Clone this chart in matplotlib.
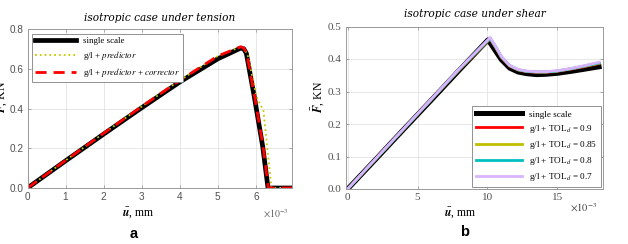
import matplotlib
matplotlib.use("Agg")
import matplotlib.pyplot as plt
from matplotlib.ticker import FuncFormatter
import numpy as np

plt.rcParams['mathtext.fontset'] = 'stix'

# ---- panel a: isotropic case under tension (u in mm, F in KN)
u_single_a = np.array([0, 1, 2, 3, 4, 5, 5.6, 5.68, 5.75, 5.96, 6.18, 6.32, 6.5, 6.95]) * 1e-3
F_single_a = [0, 0.137, 0.272, 0.405, 0.535, 0.652, 0.706, 0.703, 0.68, 0.46, 0.21, 0, 0, 0]

u_pred_a = np.array([0, 1, 2, 3, 4, 5, 5.6, 5.68, 5.78, 6.02, 6.2, 6.41, 6.6, 6.95]) * 1e-3
F_pred_a = [0, 0.139, 0.276, 0.411, 0.543, 0.666, 0.713, 0.707, 0.675, 0.46, 0.39, 0, 0, 0]

u_corr_a = np.array([0, 1, 2, 3, 4, 5, 5.6, 5.68, 5.76, 5.97, 6.19, 6.33, 6.5, 6.95]) * 1e-3
F_corr_a = [0, 0.139, 0.276, 0.411, 0.543, 0.666, 0.713, 0.707, 0.678, 0.46, 0.21, 0, 0, 0]

# ---- panel b: isotropic case under shear
u_b = np.array([0, 2, 4, 6, 8, 10.05, 10.5, 11, 11.6, 12.2, 12.8, 13.5, 14.2, 15, 16, 17, 18]) * 1e-3
F_single_b = [0, 0.091, 0.183, 0.274, 0.366, 0.459, 0.43, 0.398, 0.372, 0.36, 0.355, 0.352, 0.353, 0.356, 0.362, 0.369, 0.376]

u_tol = np.array([0, 2, 4, 6, 8, 10.2, 10.6, 11, 11.6, 12.2, 12.8, 13.5, 14.2, 15, 16, 17, 18]) * 1e-3
F_tol_09 = [0, 0.092, 0.184, 0.276, 0.368, 0.462, 0.435, 0.405, 0.378, 0.366, 0.361, 0.359, 0.359, 0.362, 0.369, 0.377, 0.386]
F_tol_085 = [0, 0.092, 0.184, 0.276, 0.368, 0.463, 0.436, 0.406, 0.379, 0.367, 0.362, 0.36, 0.36, 0.363, 0.37, 0.378, 0.387]
F_tol_08 = [0, 0.092, 0.184, 0.276, 0.369, 0.464, 0.437, 0.407, 0.38, 0.367, 0.362, 0.36, 0.36, 0.363, 0.37, 0.379, 0.388]
F_tol_07 = [0, 0.093, 0.185, 0.277, 0.37, 0.466, 0.438, 0.408, 0.38, 0.368, 0.363, 0.361, 0.361, 0.364, 0.371, 0.38, 0.39]

tol_series = [(F_tol_09, 'red', r'g/l + TOL$_d$ = 0.9'),
              (F_tol_085, '#bfbf00', r'g/l + TOL$_d$ = 0.85'),
              (F_tol_08, '#00bfbf', r'g/l + TOL$_d$ = 0.8'),
              (F_tol_07, '#d9b3ff', r'g/l + TOL$_d$ = 0.7')]

W, H = 628, 244
fig = plt.figure(figsize=(W / 100, H / 100), dpi=100)

def px_axes(l, t, r, b):
    return fig.add_axes([l / W, 1 - b / H, (r - l) / W, (b - t) / H])

milli = FuncFormatter(lambda v, p: f"{v * 1e3:g}")
serif = 'Liberation Serif'

def style(ax, tickfont):
    ax.grid(True, color='#e3e3e3', lw=0.6)
    ax.set_axisbelow(True)
    for s in ax.spines.values():
        s.set_color('#9a9a9a')
        s.set_linewidth(0.7)
    ax.tick_params(direction='in', length=2.5, width=0.6, color='#9a9a9a',
                   top=True, right=True, labelcolor='#505050', pad=3)
    for lab in ax.get_xticklabels() + ax.get_yticklabels():
        lab.set_fontfamily(tickfont[0])
        lab.set_fontsize(tickfont[1])
    ax.xaxis.set_major_formatter(milli)

# ---- panel a
ax1 = px_axes(27.5, 29.5, 292, 188)
ax1.plot(u_single_a, F_single_a, color='black', lw=3.4, label='single scale', solid_joinstyle='round')
ax1.plot(u_pred_a, F_pred_a, color='#c8c800', lw=1.3, ls=':', label=r'g/l + $\it{predictor}$')
ax1.plot(u_corr_a, F_corr_a, color='red', lw=2.0, ls=(0, (4, 2.5)),
         label=r'g/l + $\it{predictor}$ + $\it{corrector}$')
ax1.set_xlim(0, 6.95e-3)
ax1.set_ylim(0, 0.8)
ax1.set_xticks(np.arange(0, 7) * 1e-3)
ax1.set_yticks([0, 0.2, 0.4, 0.6, 0.8])
style(ax1, ('Liberation Sans', 7.2))
ax1.set_title('isotropic case under tension', fontsize=7.6, style='italic',
              family='DejaVu Serif', pad=6)
leg1 = ax1.legend(loc='upper left', prop={'family': serif, 'size': 6.4},
                  fancybox=False, edgecolor='#808080', framealpha=1,
                  handlelength=4.6, borderaxespad=0.5, labelspacing=0.45,
                  borderpad=0.35)
leg1.get_frame().set_linewidth(0.6)

# ---- panel b
ax2 = px_axes(346, 26.5, 603, 189)
ax2.plot(u_b, F_single_b, color='black', lw=3.6, label='single scale')
for F, c, lab in tol_series:
    ax2.plot(u_tol, F, color=c, lw=2.0, label=lab)
ax2.set_xlim(-0.12e-3, 18.28e-3)
ax2.set_ylim(0, 0.5)
ax2.set_xticks([0, 5e-3, 10e-3, 15e-3])
ax2.set_yticks([0, 0.1, 0.2, 0.3, 0.4, 0.5])
style(ax2, ('Liberation Serif', 8))
ax2.set_title('isotropic case under shear', fontsize=7.6, style='italic',
              family='DejaVu Serif', pad=7)
leg2 = ax2.legend(loc='lower right', prop={'family': serif, 'size': 6.6},
                  fancybox=False, edgecolor='#808080', framealpha=1,
                  handlelength=5.0, borderaxespad=0.25, labelspacing=0.45,
                  borderpad=0.4)
leg2.get_frame().set_linewidth(0.6)

# axis labels, multipliers and panel letters (figure pixel positions)
def ftext(x, y, s, **kw):
    fig.text(x / W, 1 - y / H, s, ha='center', va='center', **kw)

xl = r'$\bar{\boldsymbol{u}}$, mm'
ftext(138.5, 213, xl, fontsize=8.5, family='Liberation Serif')
ftext(460, 213, xl, fontsize=8.5, family='Liberation Serif')
yl = r'$\bar{\boldsymbol{F}}$, KN'
ftext(1, 97, yl, fontsize=8.5, family='Liberation Serif', rotation=90)
ftext(318, 97, yl, fontsize=8.5, family='Liberation Serif', rotation=90)
ftext(276, 214, r'$\times10^{-3}$', fontsize=7, color='#606060')
ftext(584, 208, r'$\times10^{-3}$', fontsize=7.5, color='#404040')
ftext(133.5, 234, 'a', fontsize=10.5, weight='bold', family='Liberation Sans')
ftext(465, 232.5, 'b', fontsize=10.5, weight='bold', family='Liberation Sans')

fig.savefig('out.png', dpi=100)
